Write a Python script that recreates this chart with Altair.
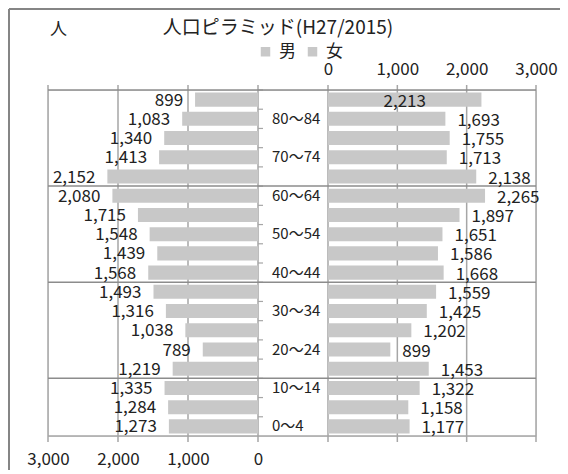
import altair as alt
import pandas as pd

# ---- data (young -> old) ----
ages = ["0〜4", "5〜9", "10〜14", "15〜19", "20〜24", "25〜29", "30〜34", "35〜39",
        "40〜44", "45〜49", "50〜54", "55〜59", "60〜64", "65〜69", "70〜74",
        "75〜79", "80〜84", "85〜"]
male = [1273, 1284, 1335, 1219, 789, 1038, 1316, 1493, 1568, 1439, 1548, 1715,
        2080, 2152, 1413, 1340, 1083, 899]
female = [1177, 1158, 1322, 1453, 899, 1202, 1425, 1559, 1668, 1586, 1651, 1897,
          2265, 2138, 1713, 1755, 1693, 2213]
shown_age_labels = ["0〜4", "10〜14", "20〜24", "30〜34", "40〜44", "50〜54",
                    "60〜64", "70〜74", "80〜84"]
female_labels_in_bar = ["85〜"]
grid_rows = ["85〜", "60〜64", "35〜39", "10〜14"]
axis_values = [0, 1000, 2000, 3000]
sex_names = ["男", "女"]
title_text = "人口ピラミッド(H27/2015)"
unit_text = "人"

FONT = "Noto Sans CJK JP"
W, H = 488, 346
BAR = "#c8c8c8"
GRID = "#a6a6a6"
HLINE = "#8c8c8c"

df = pd.DataFrame({
    "age": ages * 2,
    "sex": [sex_names[0]] * len(ages) + [sex_names[1]] * len(ages),
    "value": male + female,
})
df_ages = pd.DataFrame({"age": ages})
df_grid = pd.DataFrame({"g": axis_values})
df_lab = pd.DataFrame({"age": shown_age_labels})
df_hl = pd.DataFrame({"age": grid_rows})
one = pd.DataFrame({"t": [title_text], "u": [unit_text]})

yscale = alt.Scale(domain=ages[::-1], paddingInner=0, paddingOuter=0)
Y = alt.Y("age:N", scale=yscale, axis=None)
male_scale = alt.Scale(domain=[0, 3000], range=[210, 0], nice=False)
female_scale = alt.Scale(domain=[0, 3000], range=[280, 488], nice=False)
color_scale = alt.Scale(domain=sex_names, range=[BAR, BAR])
legend = alt.Legend(orient="none", legendX=209, legendY=-47, direction="horizontal",
                    title=None, symbolType="square", symbolSize=90,
                    symbolStrokeWidth=0, labelFontSize=17, labelFont=FONT,
                    labelColor="#222", labelOffset=5, columnPadding=8, padding=0)

male_axis = alt.Axis(orient="bottom", values=axis_values, format=",.0f", domain=False,
                     ticks=False, grid=False, labelFontSize=17, labelFont=FONT,
                     labelColor="#222", labelPadding=15, labelFlush=False,
                     labelOverlap=False, title=None)
female_axis = alt.Axis(orient="top", values=axis_values, format=",.0f", domain=False,
                       ticks=False, grid=False, labelFontSize=17, labelFont=FONT,
                       labelColor="#222", labelPadding=12, labelFlush=False,
                       labelOverlap=False, title=None)

base = alt.Chart(df)

male_grid = alt.Chart(df_grid).mark_rule(color=GRID, strokeWidth=1.5).encode(
    x=alt.X("g:Q", scale=male_scale, axis=None),
    y=alt.value(-5), y2=alt.value(H + 6))
female_grid = alt.Chart(df_grid).mark_rule(color=GRID, strokeWidth=1.5).encode(
    x=alt.X("g:Q", scale=female_scale, axis=None),
    y=alt.value(-5), y2=alt.value(H + 6))

hlines = alt.Chart(df_hl).mark_rule(color=HLINE, strokeWidth=1.5).encode(
    y=alt.Y("age:N", scale=yscale, axis=None, bandPosition=0),
    x=alt.value(0), x2=alt.value(W))
hline_bottom = alt.Chart(pd.DataFrame({"age": [ages[0]]})).mark_rule(
    color=GRID, strokeWidth=1.5).encode(
    y=alt.Y("age:N", scale=yscale, axis=None, bandPosition=1),
    x=alt.value(0), x2=alt.value(W))
cat_ticks = alt.Chart(df_ages).mark_rule(color=GRID, strokeWidth=1.2).encode(
    y=alt.Y("age:N", scale=yscale, axis=None, bandPosition=0),
    x=alt.value(210), x2=alt.value(215))

male_bars = base.transform_filter(alt.datum.sex == sex_names[0]).mark_bar(
    height={"band": 0.73}).encode(
    x=alt.X("value:Q", scale=male_scale, axis=male_axis), y=Y,
    color=alt.Color("sex:N", scale=color_scale, legend=legend))
female_bars = base.transform_filter(alt.datum.sex == sex_names[1]).mark_bar(
    height={"band": 0.73}).encode(
    x=alt.X("value:Q", scale=female_scale, axis=female_axis), y=Y,
    color=alt.Color("sex:N", scale=color_scale, legend=legend))

male_text = base.transform_filter(alt.datum.sex == sex_names[0]).mark_text(
    align="right", baseline="middle", dx=-12, dy=1, fontSize=17, font=FONT,
    color="#222").encode(
    x=alt.X("value:Q", scale=male_scale, axis=None), y=Y,
    text=alt.Text("value:Q", format=","))
female_text_out = base.transform_filter(alt.datum.sex == sex_names[1]).transform_filter(
    ~alt.FieldOneOfPredicate(field="age", oneOf=female_labels_in_bar)).mark_text(
    align="left", baseline="middle", dx=12, dy=2, fontSize=17, font=FONT,
    color="#222").encode(
    x=alt.X("value:Q", scale=female_scale, axis=None), y=Y,
    text=alt.Text("value:Q", format=","))
female_text_in = base.transform_filter(alt.datum.sex == sex_names[1]).transform_filter(
    alt.FieldOneOfPredicate(field="age", oneOf=female_labels_in_bar)).transform_calculate(
    half="datum.value / 2").mark_text(
    align="center", baseline="middle", dy=2, fontSize=17, font=FONT,
    color="#222").encode(
    x=alt.X("half:Q", scale=female_scale, axis=None), y=Y,
    text=alt.Text("value:Q", format=","))

age_text = alt.Chart(df_lab).mark_text(
    align="left", baseline="middle", fontSize=15, font=FONT, color="#222").encode(
    x=alt.value(224), y=Y, text="age:N")

title_mark = alt.Chart(one).mark_text(
    align="center", baseline="middle", fontSize=19, font=FONT, color="#222").encode(
    x=alt.value(230), y=alt.value(-62), text="t:N")
unit_mark = alt.Chart(one).mark_text(
    align="left", baseline="middle", fontSize=17, font=FONT, color="#222").encode(
    x=alt.value(2), y=alt.value(-60), text="u:N")

frame_top = alt.Chart(one).mark_rule(color="#858585", strokeWidth=2).encode(
    x=alt.value(-39), x2=alt.value(600), y=alt.value(-81))
frame_left = alt.Chart(one).mark_rule(color="#858585", strokeWidth=2).encode(
    x=alt.value(-39), y=alt.value(-81), y2=alt.value(600))

chart = alt.layer(
    male_grid, female_grid, cat_ticks, male_bars, female_bars, hlines, hline_bottom,
    male_text, female_text_out, female_text_in, age_text, title_mark, unit_mark,
    frame_top, frame_left,
).resolve_scale(x="independent").properties(
    width=W, height=H,
    autosize=alt.AutoSizeParams(type="none"),
    padding={"left": 40, "top": 82, "right": 24, "bottom": 34},
).configure_view(stroke=None).configure(background="white")

chart.save("out.html", embed_options={"renderer": "svg", "actions": False})
